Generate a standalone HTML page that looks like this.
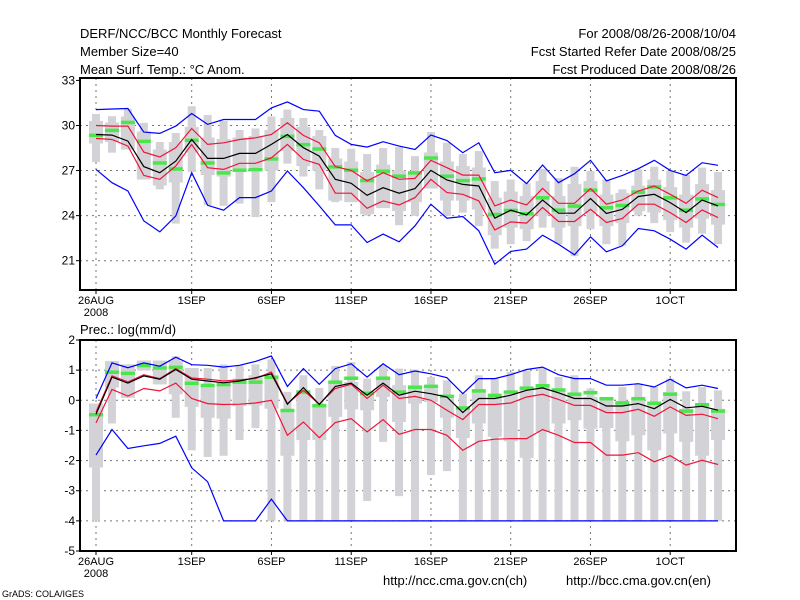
<!DOCTYPE html>
<html><head><meta charset="utf-8"><style>
html,body{margin:0;padding:0;background:#fff;}
#wrap{position:relative;width:800px;height:600px;overflow:hidden;}
svg text{font-family:"Liberation Sans",sans-serif;fill:#000;}
</style></head><body>
<div id="wrap">
<svg id="chart" width="800" height="600" viewBox="0 0 800 600">
<text x="80" y="38" font-size="13">DERF/NCC/BCC Monthly Forecast</text>
<text x="80" y="56" font-size="13">Member Size=40</text>
<text x="80" y="74" font-size="13">Mean Surf. Temp.: °C Anom.</text>
<text x="736" y="38" font-size="13" text-anchor="end">For 2008/08/26-2008/10/04</text>
<text x="736" y="56" font-size="13" text-anchor="end">Fcst Started Refer Date 2008/08/25</text>
<text x="736" y="74" font-size="13" text-anchor="end">Fcst Produced Date 2008/08/26</text>
<text x="80" y="334" font-size="13">Prec.: log(mm/d)</text>
<text x="383" y="585" font-size="13">http://ncc.cma.gov.cn(ch)</text>
<text x="566" y="585" font-size="13">http://bcc.cma.gov.cn(en)</text>
<text x="2" y="597" font-size="9">GrADS: COLA/IGES</text>
</svg>
</div>
<script>
// ---- data (days since 26 Aug 2008) ----
const tickDays = [0,6,11,16,21,26,31,36];
const tickLabels = ["26AUG","1SEP","6SEP","11SEP","16SEP","21SEP","26SEP","1OCT"];
const topYTicks = [33,30,27,24,21];
const botYTicks = [2,1,0,-1,-2,-3,-4,-5];

const tBlueMax = [31.06,31.1,31.13,29.56,29.47,29.96,30.8,30.07,30.4,30.4,30.4,31.17,31.57,31.06,30.95,29.34,28.74,28.56,28.92,28.63,28.4,29.36,29.0,28.19,28.85,26.86,27.01,26.13,27.37,26.19,26.79,27.68,26.31,26.68,27.12,27.68,27.01,26.68,27.52,27.35];
const tBlueMin = [27.08,26.19,25.64,23.65,22.92,23.98,26.86,24.69,24.36,25.2,25.2,25.64,26.97,25.86,24.65,23.38,23.38,22.21,22.77,22.26,23.32,24.76,23.83,23.94,22.99,20.77,21.62,21.77,22.7,22.1,21.39,22.59,21.59,21.99,23.14,22.99,22.43,21.77,22.7,21.88];
const tRedUp = [30.0,29.96,29.96,28.23,27.9,28.52,29.8,28.74,28.85,29.07,29.18,29.4,30.18,29.34,28.85,27.26,27.01,26.31,26.86,26.42,26.48,27.68,27.19,26.7,26.7,24.65,25.04,24.71,25.82,24.82,24.82,25.8,24.76,25.04,25.64,25.97,25.42,24.82,25.69,25.2];
const tMean = [29.4,29.36,28.96,27.26,26.86,27.63,29.07,27.81,27.81,28.14,28.14,28.74,29.4,28.52,27.96,26.42,26.15,25.35,25.86,25.49,25.8,27.01,26.37,26.08,25.97,23.83,24.36,24.05,25.04,24.16,24.16,25.13,24.14,24.42,25.27,25.42,24.87,24.2,25.04,24.65];
const tRedLo = [29.14,29.07,28.63,26.68,26.42,27.3,28.74,27.19,27.08,27.48,27.48,27.85,28.74,27.74,27.41,25.49,25.49,24.49,24.98,24.71,25.2,26.42,25.53,25.42,24.98,23.05,23.58,23.5,24.54,23.61,23.61,24.42,23.54,23.81,24.76,24.76,24.2,23.54,24.38,23.87];
const tGreen = [29.36,29.69,30.22,28.96,27.52,27.12,29.03,27.52,26.86,27.04,27.08,27.79,29.29,28.74,28.45,27.26,27.04,26.35,26.97,26.64,26.86,27.85,26.64,26.35,26.46,24.09,24.36,24.14,25.2,24.38,24.65,25.71,24.54,24.69,25.58,25.93,25.2,24.38,25.13,24.76];
const tOutHi = [30.77,30.62,31.1,30.18,28.9,29.5,31.28,30.7,30.3,29.7,29.8,30.6,31.06,30.5,29.7,28.5,28.45,28.1,28.5,28.56,27.96,29.56,28.85,28.1,28.3,26.3,26.4,26.15,27.1,26.5,27.25,26.97,26.4,25.75,27.08,27.26,26.97,26.7,27.2,26.9];
const tOutLo = [27.57,28.19,29.2,27.8,25.75,23.47,26.9,24.7,24.65,24.8,23.9,24.9,27.46,26.6,25.75,24.9,24.9,24.0,24.65,23.36,23.98,25.97,23.98,24.2,23.3,21.8,22.1,22.3,23.2,22.1,21.3,23.1,22.1,22.0,24.0,23.5,22.9,22.2,22.8,22.1];
const tInHi = [30.3,30.2,30.6,29.6,28.4,28.9,29.9,29.2,29.1,29.2,29.3,29.7,30.5,29.9,29.3,27.8,27.6,26.9,27.4,27.0,26.9,28.2,27.6,27.3,27.2,25.2,25.6,25.3,26.3,25.3,26.1,26.3,25.4,25.5,26.0,26.4,25.9,25.4,26.1,25.7];
const tInLo = [28.8,28.9,28.4,26.4,26.0,26.2,28.2,26.7,26.6,26.9,27.2,27.0,28.3,27.3,27.0,25.0,24.9,24.1,24.5,24.3,24.9,25.8,25.0,25.0,24.4,22.7,23.2,23.1,24.0,23.2,23.3,24.2,23.3,23.5,24.3,24.2,23.7,23.2,23.8,23.4];

const pBlueMax = [0.06,1.24,1.08,1.24,1.13,1.43,1.18,1.16,1.1,1.16,1.29,1.47,0.46,1.05,0.53,1.05,1.21,0.77,1.21,0.85,0.97,0.88,0.75,0.22,0.72,0.72,0.85,1.02,1.1,0.85,0.72,0.72,0.5,0.5,0.55,0.44,0.7,0.41,0.5,0.39];
const pBlueMin = [-1.82,-0.97,-1.6,-1.51,-1.43,-1.19,-2.24,-2.7,-4,-4,-4,-3.28,-4,-4,-4,-4,-4,-4,-4,-4,-4,-4,-4,-4,-4,-4,-4,-4,-4,-4,-4,-4,-4,-4,-4,-4,-4,-4,-4,-4];
const pRedUp = [-0.39,0.81,0.61,0.85,0.72,1.05,0.74,0.7,0.64,0.68,0.72,0.94,-0.11,0.33,-0.13,0.39,0.53,0.06,0.5,0.06,0.13,0.0,-0.33,-0.64,-0.14,-0.14,-0.09,0.11,0.2,0.03,-0.17,-0.17,-0.41,-0.41,-0.3,-0.53,-0.22,-0.5,-0.46,-0.61];
const pMean = [-0.46,0.77,0.57,0.81,0.7,1.02,0.7,0.64,0.58,0.64,0.75,0.88,-0.13,0.42,-0.14,0.46,0.57,0.17,0.57,0.17,0.3,0.22,0.11,-0.41,0.06,0.06,0.17,0.33,0.41,0.25,0.06,0.06,-0.19,-0.19,-0.11,-0.28,0.03,-0.25,-0.2,-0.33];
const pRedLo = [-0.75,0.36,0.14,0.39,0.31,0.57,0.06,-0.11,-0.14,-0.13,-0.09,0.0,-1.16,-0.72,-1.24,-0.74,-0.61,-1.05,-0.64,-1.13,-0.97,-0.97,-1.16,-1.66,-1.36,-1.29,-1.27,-1.27,-0.97,-1.16,-1.4,-1.4,-1.82,-1.82,-1.74,-2.04,-1.84,-2.15,-1.99,-2.13];
const pGreen = [-0.47,0.94,0.9,1.16,1.08,1.1,0.57,0.5,0.53,0.61,0.61,0.77,-0.33,0.28,-0.17,0.61,0.74,0.24,0.74,0.28,0.44,0.47,0.14,-0.25,0.32,0.17,0.28,0.41,0.49,0.35,0.21,0.26,0.06,-0.08,0.06,-0.09,0.21,-0.35,-0.14,-0.35];
const pOutHi = [-0.11,1.3,1.19,1.32,1.32,1.46,1.07,1.07,1.19,1.16,1.19,1.36,0.28,0.83,0.41,1.14,1.27,0.72,1.16,1.05,1.02,0.77,0.66,0.22,0.83,0.72,0.94,0.99,1.07,0.77,0.83,0.39,0.11,0.44,0.55,0.44,0.72,0.3,0.44,0.33];
const pOutLo = [-4,-0.77,0.08,0.99,0.53,-0.58,-1.66,-1.88,-1.84,-1.32,-0.92,-4,-4,-4,-4,-4,-4,-3.34,-1.38,-3.18,-4,-2.48,-2.35,-4,-4,-4,-4,-4,-4,-4,-4,-4,-4,-4,-4,-4,-4,-4,-4,-4];
const pInHi = [-0.11,1.3,1.19,1.32,1.32,1.3,1.07,0.5,0.61,0.72,0.83,0.83,-0.39,0.33,-0.17,0.61,0.61,0.28,0.77,0.5,0.5,0.39,0.17,-0.28,0.28,0.11,0.22,0.39,0.5,0.33,0.22,0.11,0.0,-0.06,0.06,-0.06,0.28,-0.28,-0.17,-0.28];
const pInLo = [-2.23,0.42,0.08,0.99,0.53,0.2,-0.22,-0.58,-0.61,-0.19,-0.17,-0.28,-1.84,-1.32,-1.32,-0.55,-0.3,-0.33,0.11,-0.72,-0.11,-0.06,-0.58,-1.25,-0.77,-1.21,-1.36,-1.91,-1.05,-0.77,-0.66,-0.94,-0.92,-1.36,-1.16,-1.66,-1.1,-1.38,-1.84,-1.32];

// ---- axes ----
const NS = "http://www.w3.org/2000/svg";
const svg = document.getElementById("chart");
const X0 = 80, X1 = 736;
function xDay(d){ return 96 + 15.95*d; }
const topP = {y0:78, y1:290, vTop:33.16, vBot:19.05};
const botP = {y0:340, y1:551, vTop:2, vBot:-5};
function yOf(p, v){ return p.y0 + (p.vTop - v)/(p.vTop - p.vBot)*(p.y1 - p.y0); }

function mk(tag, attrs){ const e = document.createElementNS(NS, tag); for (const k in attrs) e.setAttribute(k, attrs[k]); svg.appendChild(e); return e; }

function drawPanel(p, prefix, yTicks, gridVals, outHi, outLo, inHi, inLo, green, blueMax, blueMin, redUp, redLo, mean){
  // grid
  gridVals.forEach(v => {
    const g = mk("line", {x1:X0, x2:X1, y1:yOf(p,v), y2:yOf(p,v), stroke:"#777", "stroke-width":1, "stroke-dasharray":"2,4"});
    
    
  });
  tickDays.forEach(d => {
    const g = mk("line", {x1:xDay(d), x2:xDay(d), y1:p.y0, y2:p.y1, stroke:"#777", "stroke-width":1, "stroke-dasharray":"2,4"});
    
    
  });
  // gray bars
  for (let i = 0; i < mean.length; i++){
    const x = xDay(i);
    const o = mk("rect", {x:x-4, y:yOf(p,outHi[i]), width:8, height:Math.max(0,yOf(p,outLo[i])-yOf(p,outHi[i])), fill:"#d3d3d7"});
    
    
    const b = mk("rect", {x:x-7, y:yOf(p,inHi[i]), width:14, height:Math.max(0,yOf(p,inLo[i])-yOf(p,inHi[i])), fill:"#d3d3d7"});
    
    
  }
  // green dashes
  for (let i = 0; i < green.length; i++){
    const x = xDay(i);
    const g = mk("rect", {x:x-7, y:yOf(p,green[i])-1.5, width:14, height:3.5, fill:"#4be64b"});
    
    
  }
  function line(arr, color, name){
    const pts = arr.map((v,i) => xDay(i).toFixed(1) + "," + yOf(p,v).toFixed(1)).join(" ");
    const l = mk("polyline", {points:pts, fill:"none", stroke:color, "stroke-width":1.2});
    
    
  }
  line(blueMax, "#0000ff", "max-line");
  line(blueMin, "#0000ff", "min-line");
  line(redUp, "#f0143c", "upper-sd-line");
  line(redLo, "#f0143c", "lower-sd-line");
  line(mean, "#000000", "mean-line");
  // frame
  const f = mk("rect", {x:X0, y:p.y0, width:X1-X0, height:p.y1-p.y0, fill:"none", stroke:"#000", "stroke-width":2});
  
  
  // y ticks & labels
  yTicks.forEach(v => {
    const y = yOf(p,v);
    const t = mk("line", {x1:X0-4, x2:X0, y1:y, y2:y, stroke:"#000", "stroke-width":1});
    
    
    const tx = mk("text", {x:X0-5, y:y+4, "font-size":12, "text-anchor":"end"});
    tx.textContent = String(v);
    
    
  });
  // x ticks & labels
  tickDays.forEach((d,k) => {
    const x = xDay(d);
    const t = mk("line", {x1:x, x2:x, y1:p.y1, y2:p.y1+4, stroke:"#000", "stroke-width":1});
    
    
    const tx = mk("text", {x:x, y:p.y1+14, "font-size":11, "text-anchor":"middle"});
    tx.textContent = tickLabels[k];
    
    
  });
  const yr = mk("text", {x:xDay(0), y:p.y1+26, "font-size":11, "text-anchor":"middle"});
  yr.textContent = "2008";
  
  
}

drawPanel(topP, "temp", topYTicks, [30,27,24,21], tOutHi, tOutLo, tInHi, tInLo, tGreen, tBlueMax, tBlueMin, tRedUp, tRedLo, tMean);
drawPanel(botP, "precip", botYTicks, [1,0,-1,-2,-3,-4], pOutHi, pOutLo, pInHi, pInLo, pGreen, pBlueMax, pBlueMin, pRedUp, pRedLo, pMean);
</script>
</body></html>
